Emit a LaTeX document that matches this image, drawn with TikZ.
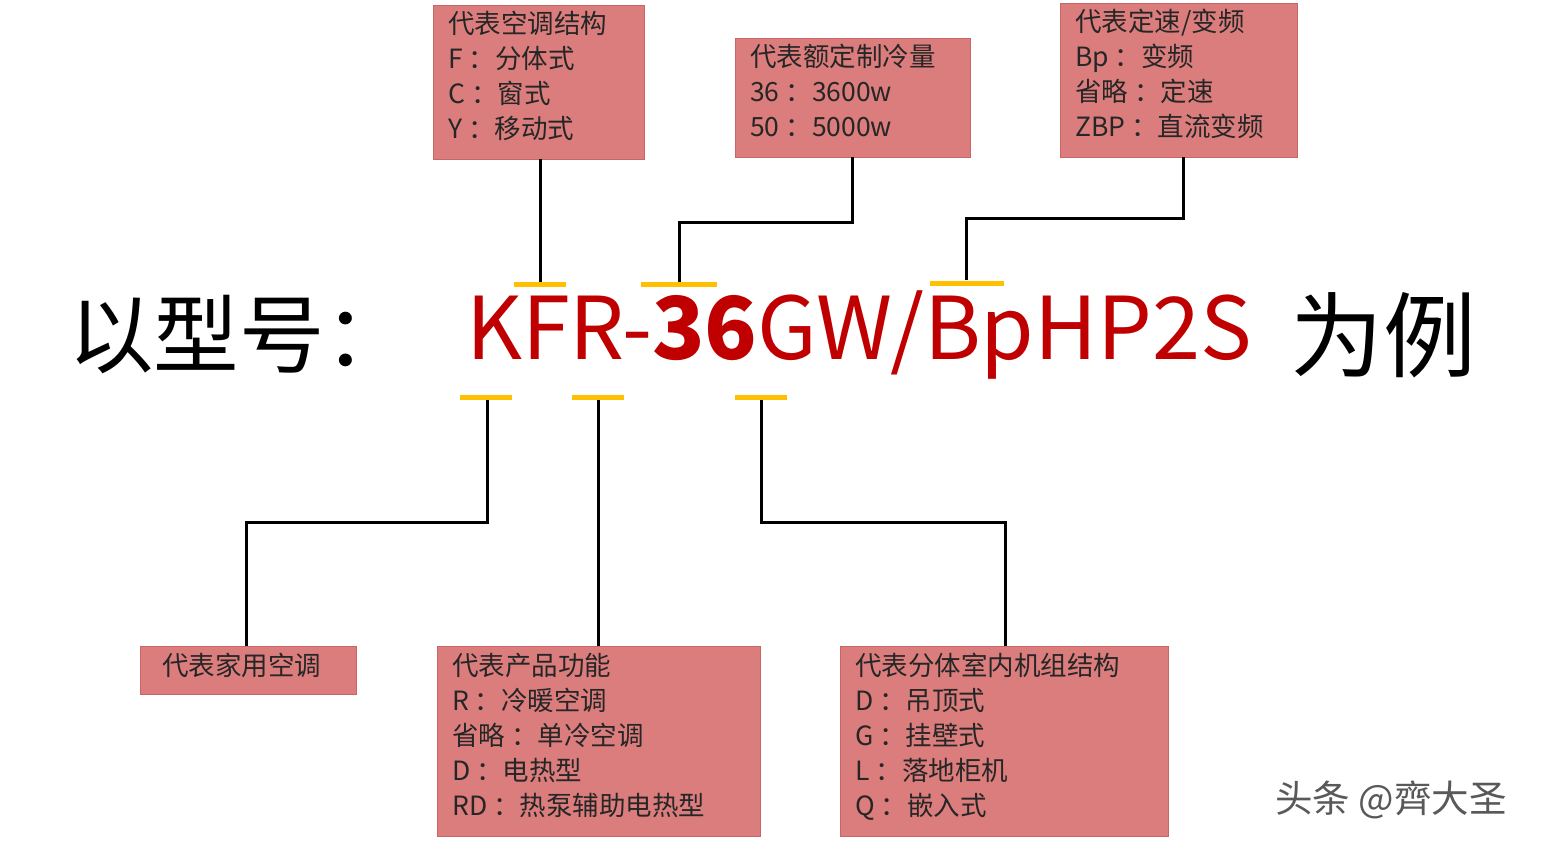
\documentclass[tikz,border=0pt]{standalone}
\usepackage{fontspec}
\setmainfont{Noto Sans CJK SC}
\definecolor{boxfill}{HTML}{DC7D7D}
\definecolor{boxline}{HTML}{C96565}
\definecolor{bar}{HTML}{FFC000}
\definecolor{redtxt}{HTML}{C00000}
\newcommand{\sep}{\ ：}
\tikzset{
  infobox/.style={fill=boxfill,draw=boxline,line width=1pt},
  boxtxt/.style={anchor=north west,align=left,inner sep=0pt,font=\fontsize{26.5}{35}\selectfont,text=black!85},
  conn/.style={line width=3pt,black},
  ybar/.style={line width=5pt,bar}
}
\begin{document}
\begin{tikzpicture}[x=1pt,y=-1pt]
\useasboundingbox[fill=white] (0,0) rectangle (1543,846);
% boxes
\draw[infobox] (433,5) rectangle (644,159);
\node[boxtxt] (t1) at (448,11) {代表空调结构\\F\sep 分体式\\C\sep 窗式\\Y\sep 移动式};
\draw[infobox] (735,38) rectangle (970,157);
\node[boxtxt] (t2) at (750,44) {代表额定制冷量\\36\sep 3600w\\50\sep 5000w};
\draw[infobox] (1060,3) rectangle (1297,157);
\node[boxtxt] (t3) at (1075,9) {代表定速/变频\\Bp\sep 变频\\省略\sep 定速\\ZBP\sep 直流变频};
\draw[infobox] (140,646) rectangle (356,694);
\node[boxtxt] (t4) at (162,653) {代表家用空调};
\draw[infobox] (437,646) rectangle (760,836);
\node[boxtxt] (t5) at (452,653) {代表产品功能\\R\sep 冷暖空调\\省略\sep 单冷空调\\D\sep 电热型\\RD\sep 热泵辅助电热型};
\draw[infobox] (840,646) rectangle (1168,836);
\node[boxtxt] (t6) at (855,653) {代表分体室内机组结构\\D\sep 吊顶式\\G\sep 挂壁式\\L\sep 落地柜机\\Q\sep 嵌入式};
% connectors
\coordinate (a1) at (540,159); \coordinate (a2) at (540,283);
\draw[conn] (a1) -- (a2);
\coordinate (b1) at (852,157); \coordinate (b2) at (679,282);
\draw[conn] (b1) |- (679,222) -- (b2);
\coordinate (c1) at (1183,157); \coordinate (c2) at (966,280);
\draw[conn] (c1) |- (966,218) -- (c2);
\coordinate (d1) at (487,397); \coordinate (d2) at (246,646);
\draw[conn] (d1) |- (246,522) -- (d2);
\coordinate (e1) at (598,397); \coordinate (e2) at (598,646);
\draw[conn] (e1) -- (e2);
\coordinate (f1) at (761,397); \coordinate (f2) at (1005,646);
\draw[conn] (f1) |- (1005,522) -- (f2);
% bars
\draw[ybar] (514,284) -- (566,284);
\draw[ybar] (641,284) -- (717,284);
\draw[ybar] (930,283) -- (1004,283);
\draw[ybar] (460,397) -- (512,397);
\draw[ybar] (572,397) -- (624,397);
\draw[ybar] (735,397) -- (787,397);
% title
\node[anchor=west,inner sep=0pt] (m1) at (68,335) {\resizebox{342pt}{!}{\fontsize{90}{90}\selectfont 以型号：}};
\node[anchor=west,inner sep=0pt,text=redtxt] (m2) at (466,335) {\resizebox{786pt}{!}{\fontsize{110}{110}\selectfont KFR-\textbf{36}GW/BpHP2S}};
\node[anchor=west,inner sep=0pt] (m3) at (1290,335) {\resizebox{186pt}{!}{\fontsize{90}{90}\selectfont 为例}};
\node[anchor=west,inner sep=0pt,text=black!65,font=\fontsize{37.5}{37.5}\selectfont] (wm) at (1275,800) {头条 @齊大圣};
\end{tikzpicture}
\end{document}
